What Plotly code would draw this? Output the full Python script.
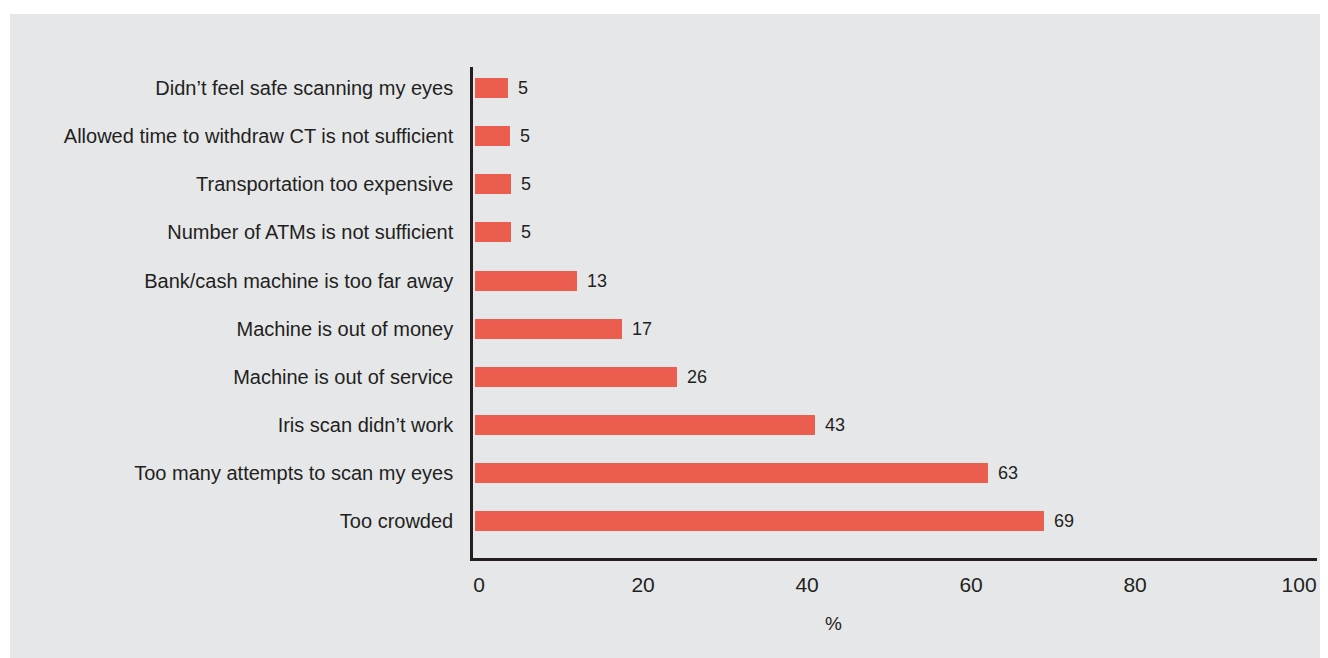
import plotly.graph_objects as go

# reasons, listed top to bottom as in the chart
motivos = ["Didn’t feel safe scanning my eyes",
           "Allowed time to withdraw CT is not sufficient",
           "Transportation too expensive",
           "Number of ATMs is not sufficient",
           "Bank/cash machine is too far away",
           "Machine is out of money",
           "Machine is out of service",
           "Iris scan didn’t work",
           "Too many attempts to scan my eyes",
           "Too crowded"]
# bar lengths as drawn (the printed labels differ a little)
valores = [4.0, 4.3, 4.4, 4.4, 12.4, 17.9, 24.6, 41.5, 62.5, 69.4]
rotulos = ["5", "5", "5", "5", "13", "17", "26", "43", "63", "69"]
ticks_x = [0, 20, 40, 60, 80, 100]

FONTE = "Liberation Sans, Arial, sans-serif"
COR_TEXTO = "#231f20"
COR_BARRA = "#ea5d4f"
FUNDO = "#e6e7e9"

# the page adds an 8px body margin, so the figure is 8px smaller
OFF = 8
W, H = 1328 - OFF, 658 - OFF
L, R, T, B = 473 - OFF, 11, 67 - OFF, 100
pw, ph = W - L - R, H - T - B


def px(xp):  # page pixel -> paper x
    return (xp - OFF - L) / pw


def py(yp):  # page pixel -> paper y
    return (T + ph - (yp - OFF)) / ph


fig = go.Figure()
fig.add_trace(go.Bar(x=valores[::-1], y=motivos[::-1], orientation="h",
                     marker=dict(color=COR_BARRA, line=dict(width=0)),
                     width=0.415, hoverinfo="x+y"))

# value labels next to each bar
for v, m, t in zip(valores, motivos, rotulos):
    fig.add_annotation(x=v, y=m, text=t, showarrow=False, xanchor="left", yanchor="middle",
                       xshift=8, font=dict(family=FONTE, size=18, color=COR_TEXTO))

# x axis title
fig.add_annotation(x=px(833), y=py(623), xref="paper", yref="paper",
                   text="%", showarrow=False, xanchor="center", yanchor="middle",
                   font=dict(family=FONTE, size=19, color=COR_TEXTO))

# grey panel with white strip on top and left
fig.add_shape(type="rect", xref="paper", yref="paper", layer="below",
              x0=px(10), x1=px(1340), y0=py(670), y1=py(14),
              fillcolor=FUNDO, line=dict(width=0))

fig.update_layout(width=W, height=H, margin=dict(l=L, r=R, t=T, b=B, autoexpand=False),
                  paper_bgcolor="white", plot_bgcolor=FUNDO, showlegend=False,
                  bargap=0,
                  font=dict(family=FONTE, color=COR_TEXTO))

fig.update_xaxes(range=[-2 / 8.2, (1317 - 475) / 8.2], automargin=False,
                 tickvals=[t + 0.5 for t in ticks_x], ticktext=[str(t) for t in ticks_x],
                 showgrid=False, zeroline=False, showline=True, linecolor=COR_TEXTO, linewidth=2.5,
                 ticks="outside", ticklen=0, ticklabelstandoff=6,
                 tickfont=dict(family=FONTE, size=21, color=COR_TEXTO))
fig.update_yaxes(range=[-0.77, 9.44], showgrid=False, zeroline=False, automargin=False,
                 showline=True, linecolor=COR_TEXTO, linewidth=2.5,
                 ticks="outside", ticklen=0, ticklabelstandoff=13,
                 tickfont=dict(family=FONTE, size=20, color=COR_TEXTO))

fig.write_html("out.html")
